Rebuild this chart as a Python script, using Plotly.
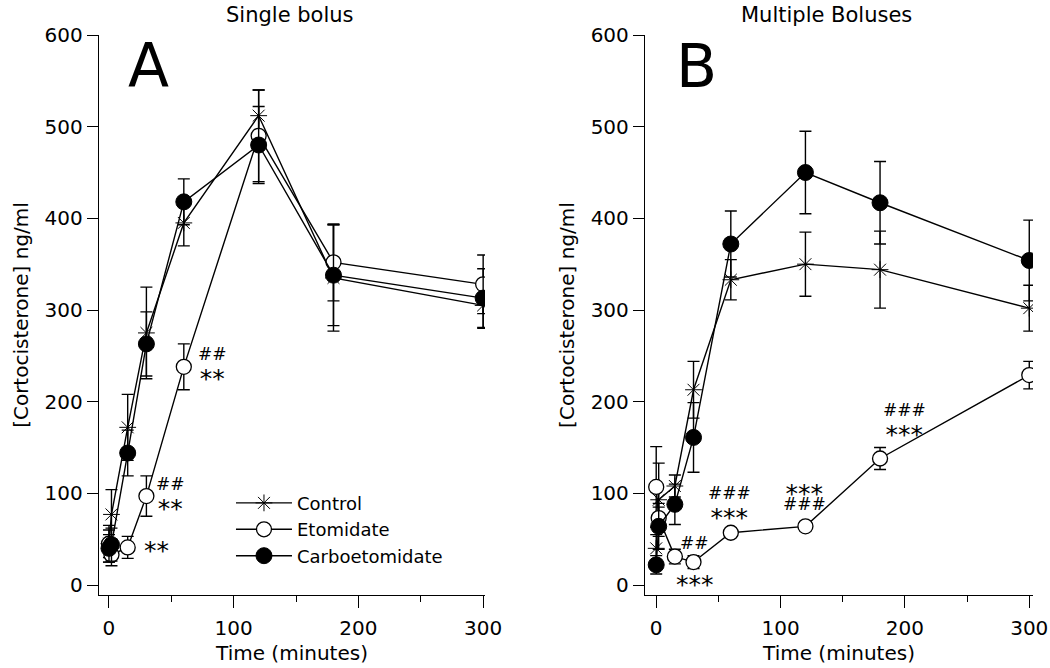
import plotly.graph_objects as go

# ---- data ----
times = [0, 2, 15, 30, 60, 120, 180, 300]

# Panel A: single bolus
ctrl_a = [45, 77, 172, 275, 395, 512, 335, 305]
ctrl_a_err = [20, 27, 36, 50, 25, 28, 58, 25]
eto_a = [45, 33, 41, 97, 238, 490, 352, 328]
eto_a_err = [15, 12, 12, 22, 25, 50, 42, 32]
carb_a = [40, 44, 144, 263, 418, 480, 338, 313]
carb_a_err = [15, 18, 25, 35, 25, 42, 55, 32]

# Panel B: multiple boluses
ctrl_b = [40, 93, 108, 213, 333, 350, 344, 302]
ctrl_b_err = [15, 40, 12, 31, 22, 35, 42, 25]
eto_b = [107, 73, 31, 25, 57, 64, 138, 229]
eto_b_err = [44, 12, 8, 7, 5, 5, 12, 15]
carb_b = [22, 64, 88, 161, 372, 450, 417, 354]
carb_b_err = [10, 25, 22, 38, 36, 45, 45, 44]

series_names = ["Control", "Etomidate", "Carboetomidate"]

# significance labels: (upper line, lower line, x, y)
sig_a = [("##", "**", 82.6, 236), ("##", "**", 49, 94), ("**", "", 38, 41)]
sig_b = [("##", "", 30.6, 46), ("***", "", 31.4, 4), ("###", "***", 59, 85),
         ("***", "###", 119, 97), ("###", "***", 200, 175)]

xticks = [0, 100, 200, 300]
yticks = [0, 100, 200, 300, 400, 500, 600]

FONT = "DejaVu Sans"
HASH_SIZE = 17
STAR_SIZE = 25

styles = [
    dict(symbol="asterisk-open", size=14, color="black", line=dict(color="black", width=1)),
    dict(symbol="circle", size=15, color="white", line=dict(color="black", width=1.3)),
    dict(symbol="circle", size=16, color="black", line=dict(color="black", width=1)),
]

fig = go.Figure()

panels = [
    ("x", "y", [ctrl_a, eto_a, carb_a], [ctrl_a_err, eto_a_err, carb_a_err], True),
    ("x2", "y2", [ctrl_b, eto_b, carb_b], [ctrl_b_err, eto_b_err, carb_b_err], False),
]

for xa, ya, vals, errs, show in panels:
    for name, v, e, st in zip(series_names, vals, errs, styles):
        fig.add_trace(go.Scatter(
            x=times, y=v, name=name, mode="lines+markers",
            xaxis=xa, yaxis=ya, showlegend=show,
            line=dict(color="black", width=1.4),
            marker=st,
            error_y=dict(type="data", array=e, visible=True, color="black",
                         thickness=1.4, width=6),
        ))


def sized(txt):
    s = STAR_SIZE if "*" in txt else HASH_SIZE
    return f"<span style='font-size:{s}px'>{txt}</span>"


annotations = []
for ref_x, ref_y, sigs in (("x", "y", sig_a), ("x2", "y2", sig_b)):
    for top, bottom, x, y in sigs:
        if bottom:
            # base size sets the line spacing of the two stacked labels
            base = 21 if "#" in top else 6
            text = sized(top) + "<br>" + sized(bottom)
            shift = 0
        else:
            base = STAR_SIZE if "*" in top else HASH_SIZE
            text = top
            shift = -3 if "*" in top else 0
        annotations.append(dict(
            text=text, x=x, y=y, xref=ref_x, yref=ref_y, showarrow=False,
            xanchor="center", yanchor="middle", yshift=shift,
            font=dict(family=FONT, size=base, color="black"),
        ))


def paper_note(txt, x, y, size):
    return dict(text=txt, x=x, y=y, xref="paper", yref="paper", showarrow=False,
                xanchor="center", yanchor="middle",
                font=dict(family=FONT, size=size, color="black"))


annotations += [
    paper_note("Single bolus", 0.2045, 1.0357, 21),
    paper_note("Multiple Boluses", 0.7784, 1.0357, 21),
    paper_note("A", 0.0535, 0.946, 60),
    paper_note("B", 0.640, 0.9446, 60),
]


def xaxis(domain, rng, anchor):
    return dict(domain=domain, range=rng, tickvals=xticks, ticks="outside", ticklen=12,
                tickwidth=1.4, tickcolor="black", showline=True, linecolor="black",
                linewidth=1.4, showgrid=False, zeroline=False, automargin=False,
                anchor=anchor,
                tickfont=dict(family=FONT, size=20, color="black"),
                ticklabelstandoff=3,
                minor=dict(tickvals=[50, 150, 250], ticks="outside", ticklen=6,
                           tickwidth=1.4, tickcolor="black", showgrid=False),
                title=dict(text="Time (minutes)", standoff=6,
                           font=dict(family=FONT, size=20, color="black")))


def yaxis(anchor):
    return dict(domain=[0, 1], range=[-10.9, 600], tickvals=yticks, ticks="outside",
                ticklen=11, tickwidth=1.4, tickcolor="black", showline=True,
                linecolor="black", linewidth=1.4, showgrid=False, zeroline=False,
                anchor=anchor, automargin=False,
                tickfont=dict(family=FONT, size=20, color="black"),
                title=dict(text="[Cortocisterone] ng/ml", standoff=10,
                           font=dict(family=FONT, size=20, color="black")))


fig.update_layout(
    width=1050, height=668,
    margin=dict(l=99, r=17, t=35, b=73, autoexpand=False),
    paper_bgcolor="white", plot_bgcolor="white",
    font=dict(family=FONT, color="black"),
    xaxis=xaxis([0, 0.4133], [-8, 301.5], "y"),
    xaxis2=xaxis([0.5846, 1.0], [-9, 303], "y2"),
    yaxis=yaxis("x"),
    yaxis2=yaxis("x2"),
    annotations=annotations,
    legend=dict(x=0.1413, y=0.197, xanchor="left", yanchor="top",
                bgcolor="rgba(0,0,0,0)", itemwidth=56,
                font=dict(family=FONT, size=18, color="black"),
                tracegroupgap=0),
)

fig.write_html("out.html", config={"displayModeBar": False},
               post_script="document.body.style.margin='0';document.body.style.overflow='hidden';")
